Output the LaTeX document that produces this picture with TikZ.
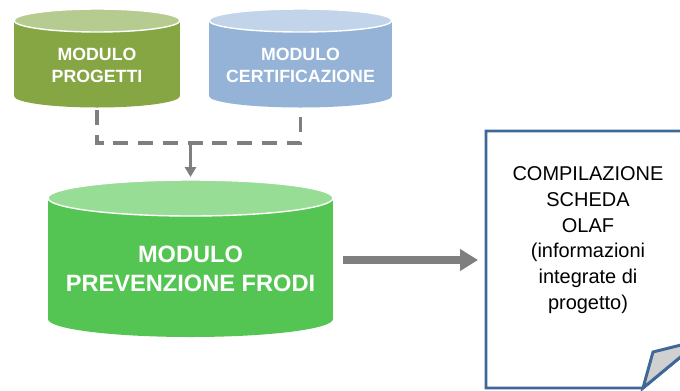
\documentclass[tikz,border=0pt]{standalone}
\usepackage{fontspec}
\setmainfont{Liberation Sans}
\usetikzlibrary{arrows.meta}

\definecolor{progbody}{HTML}{86A543}
\definecolor{progtop}{HTML}{B6CB8F}
\definecolor{certbody}{HTML}{95B3D7}
\definecolor{certtop}{HTML}{C2D4EA}
\definecolor{frodibody}{HTML}{54C552}
\definecolor{froditop}{HTML}{98DD95}
\definecolor{linkgray}{HTML}{7F7F7F}
\definecolor{boxblue}{HTML}{3F6898}
\definecolor{foldgray}{HTML}{D0D0D0}

\begin{document}
\begin{tikzpicture}[x=0.025cm, y=-0.025cm,
  modtext/.style={text=white, align=center, inner sep=0pt,
    font=\bfseries\fontsize{12.6}{15.6}\selectfont},
  bigtext/.style={text=white, align=center, inner sep=0pt,
    font=\bfseries\fontsize{16.8}{20.6}\selectfont},
  schedatext/.style={text=black, align=center, inner sep=0pt,
    font=\fontsize{14.2}{18.3}\selectfont},
  dashlink/.style={linkgray, line width=2.5pt, dash pattern=on 10.6pt off 7pt},
  droplink/.style={linkgray, line width=2.5pt, -{Triangle[width=7.8pt,length=7pt]}},
  flowlink/.style={linkgray, line width=5pt, -{Triangle[width=14.9pt,length=12.8pt]}},
  boxline/.style={boxblue, line width=2.1pt}]
\useasboundingbox (0,0) rectangle (680,390);
\clip (0,0) rectangle (680,390);

% modulo progetti
\fill[progbody] (14,20.5) rectangle (180,96);
\fill[progbody] (97,96) ellipse [x radius=83, y radius=11.5];
\filldraw[fill=progtop, draw=white, line width=1pt] (97,20.5) ellipse [x radius=83, y radius=11.5];
\node[modtext] (prog) at (97,65) {MODULO\\PROGETTI};

% modulo certificazione
\fill[certbody] (209,20.5) rectangle (392,96);
\fill[certbody] (300.5,96) ellipse [x radius=91.5, y radius=11.5];
\filldraw[fill=certtop, draw=white, line width=1pt] (300.5,20.5) ellipse [x radius=91.5, y radius=11.5];
\node[modtext] (cert) at (300.5,65) {MODULO\\CERTIFICAZIONE};

% modulo prevenzione frodi
\fill[frodibody] (48,198) rectangle (333,319);
\fill[frodibody] (190.5,319) ellipse [x radius=142.5, y radius=18];
\filldraw[fill=froditop, draw=white, line width=1pt] (190.5,198) ellipse [x radius=142.5, y radius=18];
\node[bigtext] (frodi) at (190.5,268.5) {MODULO\\PREVENZIONE FRODI};

% scheda olaf
\filldraw[boxline, fill=white] (486,131) -- (701,131) -- (701,340) -- (643,388) -- (486,388) -- cycle;
\filldraw[boxline, fill=foldgray] (643,388) -- (653,352) -- (701,340) -- cycle;
\node[schedatext, anchor=north] (scheda) at (588,166.5) {COMPILAZIONE\\SCHEDA\\OLAF\\(informazioni\\integrate di\\progetto)};

% connectors
\coordinate (progout) at (97,110);
\coordinate (certout) at (300.5,110);
\coordinate (join) at (190.5,143);
\coordinate (frodiin) at (190.5,177);
\coordinate (frodiout) at (343,260);
\coordinate (schedain) at (478,260);
\draw[dashlink] (progout) |- (join) -| (certout);
\draw[droplink] (join) -- (frodiin);
\draw[flowlink] (frodiout) -- (schedain);
\end{tikzpicture}
\end{document}
